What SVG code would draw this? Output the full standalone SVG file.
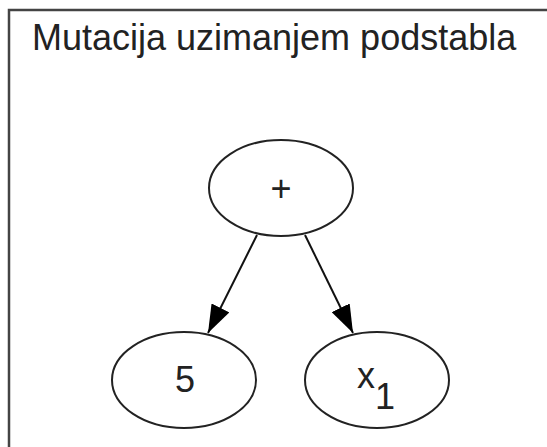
<svg xmlns="http://www.w3.org/2000/svg" width="547" height="447" viewBox="0 0 547 447">
<defs>
<style>
text{font-family:"Liberation Sans",Arial,sans-serif;font-size:36px;fill:#222}
.node ellipse{fill:#fff;stroke:#222;stroke-width:2}
.edge{stroke:#111;stroke-width:2;fill:none}
</style>
<marker id="ah" markerWidth="28" markerHeight="20" refX="28" refY="10" orient="auto" markerUnits="userSpaceOnUse" viewBox="0 0 28 20">
<path d="M0,0 L28,10 L0,20 Z" fill="#000"/>
</marker>
</defs>
<rect x="0" y="0" width="547" height="447" fill="#fff"/>
<rect x="9" y="10" width="560" height="460" fill="none" stroke="#444" stroke-width="2.5"/>
<text x="32" y="50" font-size="34.3">Mutacija uzimanjem podstabla</text>
<g id="connectors">
<line class="edge" x1="257" y1="235" x2="208" y2="333" marker-end="url(#ah)"/>
<line class="edge" x1="305" y1="235" x2="353" y2="333" marker-end="url(#ah)"/>
</g>
<g id="node-plus" class="node">
<ellipse cx="281" cy="188" rx="72" ry="48"/>
<text x="281" y="201" text-anchor="middle">+</text>
</g>
<g id="node-5" class="node">
<ellipse cx="184" cy="380" rx="72" ry="48"/>
<text x="185" y="392" text-anchor="middle">5</text>
</g>
<g id="node-x1" class="node">
<ellipse cx="377" cy="380" rx="72" ry="48"/>
<text x="357" y="388">x<tspan dy="21">1</tspan></text>
</g>
</svg>
